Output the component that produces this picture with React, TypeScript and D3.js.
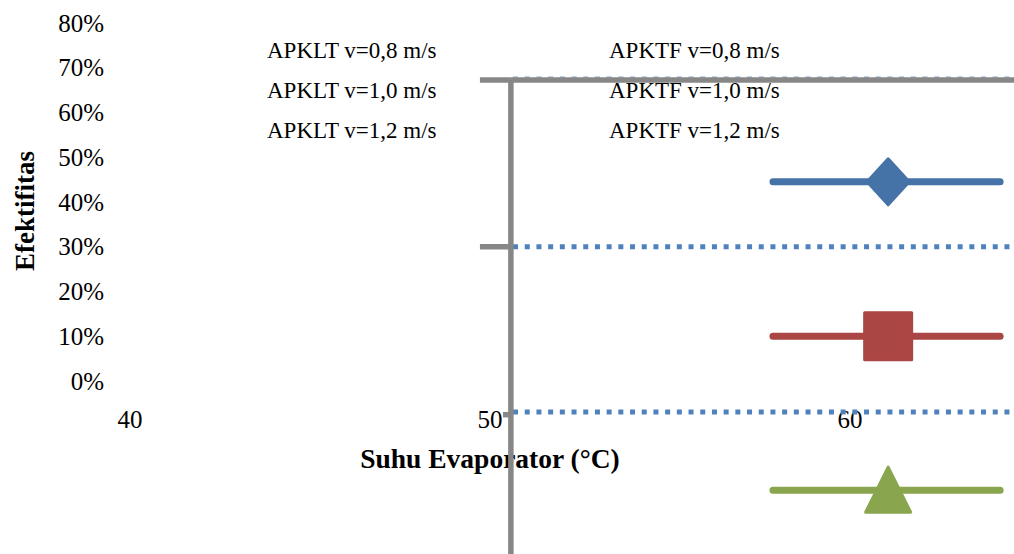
import * as d3 from 'd3';
import React from 'react';

// Axis ticks
const xTicks = [40, 50, 60];
const yTicks = [0, 0.1, 0.2, 0.3, 0.4, 0.5, 0.6, 0.7, 0.8];

// Legend labels (two columns)
const apkltLabels = ["APKLT v=0,8 m/s", "APKLT v=1,0 m/s", "APKLT v=1,2 m/s"];
const apktfLabels = ["APKTF v=0,8 m/s", "APKTF v=1,0 m/s", "APKTF v=1,2 m/s"];

// Solid series (APKLT)
const solidNames = ["APKLT v=0,8 m/s", "APKLT v=1,0 m/s", "APKLT v=1,2 m/s"];
const solidLevels = [0.445, 0.1, -0.244];
const solidColors = ["#4572a7", "#aa4643", "#89a54e"];
const solidMarkers = ["diamond", "square", "triangle"];
const solidXStart = 57.86;
const solidXEnd = 64.17;
const markerX = 61.06;

// Dotted series (APKTF)
const dottedLevels = [0.6755, 0.3, -0.0693];
const dottedXStart = 50.64;
const dottedXEnd = 64.6;

// Gray frame lines
const frameX = 50.58;
const frameTop = 0.6726;
const frameBottom = -0.395;
const frameRight = 64.6;
const frameTicks = [0.6726, 0.3, -0.0753];
const frameTickStarts = [49.72, 49.72, 50.36];

const WIDTH = 1014;
const HEIGHT = 554;

const x = d3.scaleLinear().domain([40, 60]).range([130, 850]);
const y = d3.scaleLinear().domain([0, 0.8]).range([381, 23]);

const markerPath = (kind: string, cx: number, cy: number) => {
  const p = d3.path();
  if (kind === "diamond") {
    p.moveTo(cx, cy - 23);
    p.lineTo(cx + 21, cy);
    p.lineTo(cx, cy + 23);
    p.lineTo(cx - 21, cy);
    p.closePath();
  } else if (kind === "square") {
    p.rect(cx - 23.5, cy - 23.5, 47, 47);
  } else {
    p.moveTo(cx, cy - 23);
    p.lineTo(cx + 22.5, cy + 22);
    p.lineTo(cx - 22.5, cy + 22);
    p.closePath();
  }
  return p.toString();
};

const serif = "'Liberation Serif', 'Times New Roman', serif";

const App: React.FC = () => {
  const line = d3.line<[number, number]>().x(d => x(d[0])).y(d => y(d[1]));

  return (
    <svg
      width={WIDTH}
      height={HEIGHT}
      style={{ position: "absolute", left: 0, top: 0, background: "#fff" }}
      fontFamily={serif}
    >
      {/* y tick labels */}
      {yTicks.map(t => (
        <text key={t} x={104} y={y(t)} textAnchor="end" dominantBaseline="central" fontSize={25}>
          {d3.format(".0%")(t)}
        </text>
      ))}
      {/* x tick labels */}
      {xTicks.map(t => (
        <text key={t} x={x(t)} y={419} textAnchor="middle" dominantBaseline="central" fontSize={25}>
          {t}
        </text>
      ))}
      {/* axis titles */}
      <text
        transform={`translate(25,${y(0.38)}) rotate(-90)`}
        textAnchor="middle"
        dominantBaseline="central"
        fontSize={27}
        fontWeight="bold"
      >
        Efektifitas
      </text>
      <text x={x(50)} y={458} textAnchor="middle" dominantBaseline="central" fontSize={27.5} fontWeight="bold">
        Suhu Evaporator (°C)
      </text>

      {/* legend labels */}
      {apkltLabels.map((l, i) => (
        <text key={l} x={267} y={57.7 + i * 40} fontSize={23}>{l}</text>
      ))}
      {apktfLabels.map((l, i) => (
        <text key={l} x={609} y={57.7 + i * 40} fontSize={23}>{l}</text>
      ))}

      {/* dotted APKTF lines */}
      {dottedLevels.map((lv, i) => (
        <path
          key={i}
          d={line([[dottedXStart, lv], [dottedXEnd, lv]]) || ""}
          stroke="#4f81bd"
          strokeWidth={5}
          strokeDasharray="5,6.7"
          strokeOpacity={i === 0 ? 0.5 : 1}
          fill="none"
        />
      ))}

      {/* gray frame */}
      <g stroke="#878787" strokeWidth={5.5} fill="none">
        <path d={line([[frameX, frameTop], [frameRight, frameTop]]) || ""} />
        <path d={line([[frameX, frameTop], [frameX, frameBottom]]) || ""} />
        {frameTicks.map((t, i) => (
          <path key={i} d={line([[frameTickStarts[i], t], [frameX, t]]) || ""} />
        ))}
      </g>

      {/* solid APKLT lines with markers */}
      {solidLevels.map((lv, i) => (
        <g key={solidNames[i]}>
          <path
            d={line([[solidXStart, lv], [solidXEnd, lv]]) || ""}
            stroke={solidColors[i]}
            strokeWidth={7}
            strokeLinecap="round"
            fill="none"
          />
          <path
            d={markerPath(solidMarkers[i], x(markerX), y(lv))}
            fill={solidColors[i]}
            stroke={solidColors[i]}
            strokeWidth={3}
            strokeLinejoin="round"
          />
        </g>
      ))}
    </svg>
  );
};

export default App;
